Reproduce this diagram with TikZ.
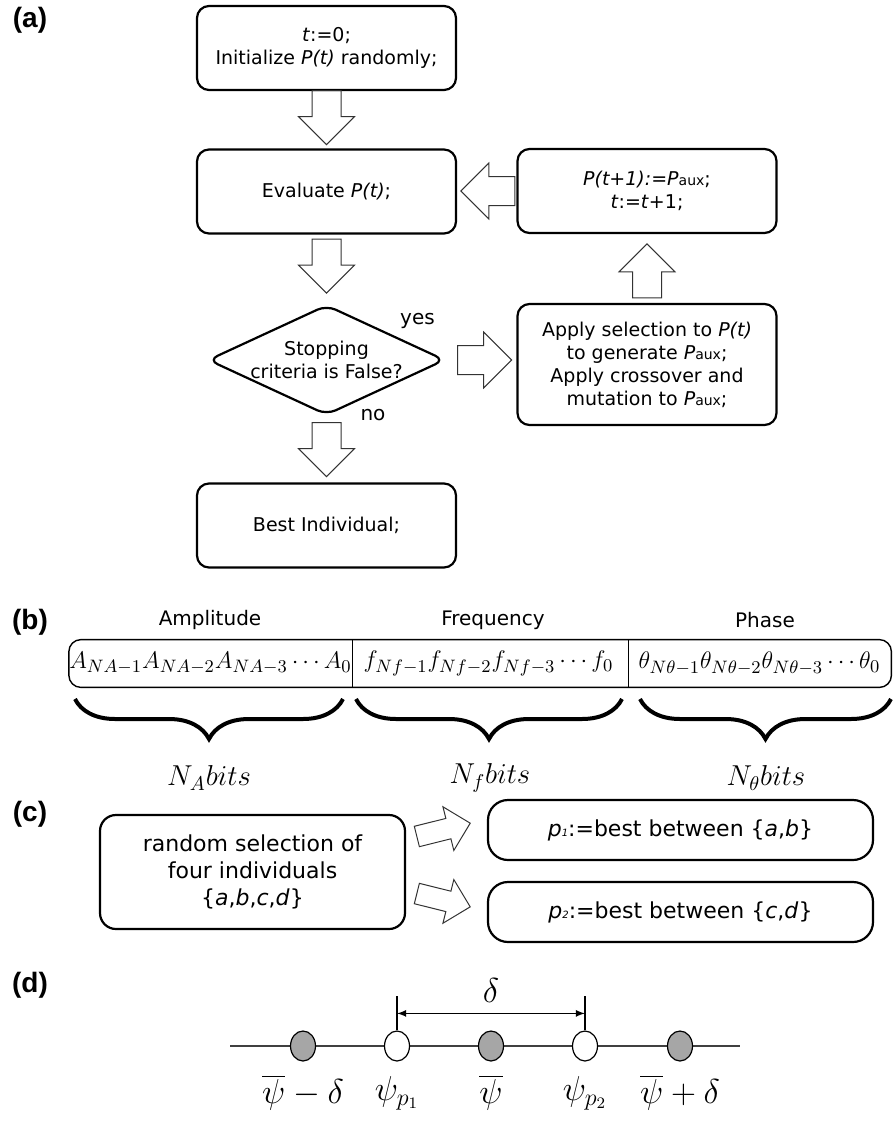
\documentclass[tikz,border=0pt]{standalone}
\usepackage[no-math]{fontspec}
\setmainfont{DejaVu Sans}
\newfontfamily\panelfont{Liberation Sans}
\usetikzlibrary{shapes.geometric,shapes.arrows,decorations.pathreplacing,calc}
\begin{document}
\begin{tikzpicture}[x=0.5pt,y=-0.5pt]
	\tikzstyle{stepbox}=[draw,line width=1.1pt,rounded corners=6pt,minimum width=129.5pt,minimum height=42pt,align=center,font=\fontsize{9.5}{11.5}\selectfont]
	\tikzstyle{decision}=[draw,diamond,aspect=2.15,line width=1.1pt,rounded corners=5pt,minimum width=118.5pt,minimum height=55pt,inner sep=-6pt,align=center,font=\fontsize{9.5}{11.5}\selectfont]
	\tikzstyle{bigarrow}=[draw=black!80,line width=0.5pt,single arrow,single arrow head extend=6.75pt,inner xsep=0pt,inner ysep=7pt,minimum height=27pt,anchor=tip]
	\tikzstyle{smallarrow}=[draw=black!80,line width=0.5pt,single arrow,single arrow head extend=6pt,inner xsep=0pt,inner ysep=5pt,minimum height=27.5pt,anchor=tip]
	\tikzstyle{panel}=[font=\fontsize{14}{16}\panelfont\bfseries]
	\tikzstyle{cell}=[inner sep=0pt,minimum height=23.5pt,font=\fontsize{12.3}{14}\selectfont]
	\tikzstyle{pickbox}=[draw,line width=1.1pt,rounded corners=8pt,align=center,font=\fontsize{11}{13.5}\selectfont]
	\tikzstyle{bead}=[draw,ellipse,line width=0.6pt,minimum width=12.5pt,minimum height=15pt,inner sep=0pt]

	\useasboundingbox (0,0) rectangle (893,1130);

	\node[panel] (la) at (30,20) {(a)};
	\node[panel] (lb) at (30,622) {(b)};
	\node[panel] (lc) at (30,814) {(c)};
	\node[panel] (ld) at (30,985) {(d)};

	\node[stepbox] (init) at (326.5,48) {\textit{t}:=0;\\Initialize \textit{P(t)} randomly;};
	\node[stepbox] (eval) at (326.5,191.5) {Evaluate \textit{P(t)};};
	\node[decision] (stop) at (326.5,360) {Stopping\\criteria is False?};
	\node[stepbox] (best) at (326.5,525.5) {Best Individual;};
	\node[stepbox] (upd) at (647,191) {\textit{P(t+1):=P}{\scriptsize aux};\\\textit{t}:=\textit{t}+1;};
	\node[stepbox,minimum height=60.5pt] (apply) at (647,364.5) {Apply selection to \textit{P(t)}\\to generate \textit{P}{\scriptsize aux};\\Apply crossover and\\mutation to \textit{P}{\scriptsize aux};};

	\node[bigarrow,rotate=-90] (a1) at ($(eval.north)+(0,-3)$) {};
	\node[bigarrow,rotate=-90] (a2) at ($(stop.north)+(0,-10)$) {};
	\node[bigarrow,rotate=-90] (a3) at ($(best.north)+(0,-5)$) {};
	\node[bigarrow] (a4) at ($(apply.west |- stop.east)+(-4,0)$) {};
	\node[bigarrow,rotate=90] (a5) at ($(upd.south)+(0,9)$) {};
	\node[bigarrow,rotate=180] (a6) at ($(eval.east |- upd.west)+(3,0)$) {};

	\node[font=\fontsize{10}{12}\selectfont] (yes) at (417.5,320.5) {yes};
	\node[font=\fontsize{10}{12}\selectfont] (no) at (373,415) {no};

	\node[cell,minimum width=138.5pt] (amp) at (210.5,663.5) {$A_{NA-1}A_{NA-2}A_{NA-3}\cdots A_0$};
	\node[cell,minimum width=139.5pt] (frq) at (488.5,663.5) {$f_{Nf-1}f_{Nf-2}f_{Nf-3}\cdots f_0$};
	\node[cell,minimum width=131.5pt] (pha) at (759.5,663.5) {$\theta_{N\theta-1}\theta_{N\theta-2}\theta_{N\theta-3}\cdots\theta_0$};
	\draw[line width=0.7pt,rounded corners=6pt] (amp.north west) rectangle (pha.south east);
	\draw[line width=0.5pt] (amp.north east) -- (amp.south east);
	\draw[line width=0.5pt] (frq.north east) -- (frq.south east);

	\node[font=\fontsize{10}{12}\selectfont] (tamp) at (210,620) {Amplitude};
	\node[font=\fontsize{10}{12}\selectfont] (tfrq) at (493,620) {Frequency};
	\node[font=\fontsize{10}{12}\selectfont] (tpha) at (765,620) {Phase};

	\draw[line width=2pt,decorate,decoration={brace,mirror,amplitude=20pt}] (75,699) -- (343,699);
	\draw[line width=2pt,decorate,decoration={brace,mirror,amplitude=20pt}] (356,699) -- (622,699);
	\draw[line width=2pt,decorate,decoration={brace,mirror,amplitude=20pt}] (640,699) -- (891,699);

	\node[font=\fontsize{14}{16}\selectfont] (na) at (209,778) {$N_Abits$};
	\node[font=\fontsize{14}{16}\selectfont] (nf) at (490,778) {$N_fbits$};
	\node[font=\fontsize{14}{16}\selectfont] (nt) at (766,778) {$N_\theta bits$};

	\node[pickbox,minimum width=152.5pt,minimum height=57pt] (rnd) at (252.5,872) {random selection of\\four individuals\\\{\textit{a},\textit{b},\textit{c},\textit{d}\}};
	\node[pickbox,rounded corners=10pt,minimum width=192.5pt,minimum height=30pt] (p1) at (680.5,830) {\textit{p}{\tiny\textit{1}}:=best between \{\textit{a},\textit{b}\}};
	\node[pickbox,rounded corners=10pt,minimum width=192.5pt,minimum height=30pt] (p2) at (680.5,912) {\textit{p}{\tiny\textit{2}}:=best between \{\textit{c},\textit{d}\}};
	\node[smallarrow,rotate=14] (s1) at ($(p1.west)+(-16,-7)$) {};
	\node[smallarrow,rotate=-14] (s2) at ($(p2.west)+(-16,-5)$) {};

	\coordinate (l0) at (230,1046);
	\coordinate (l1) at (740,1046);
	\draw[line width=0.8pt,black!75] (l0) -- (l1);
	\node[bead,fill=black!35] (g1) at (303,1046) {};
	\node[bead,fill=white] (w1) at (397,1046) {};
	\node[bead,fill=black!35] (g2) at (491,1046) {};
	\node[bead,fill=white] (w2) at (585,1046) {};
	\node[bead,fill=black!35] (g3) at (680,1046) {};
	\draw[line width=0.6pt] (w1.north) -- ++(0,-34) coordinate (t1);
	\draw[line width=0.6pt] (w2.north) -- ++(0,-34) coordinate (t2);
	\draw[<->,>=latex,line width=0.6pt] ($(t1)!0.5!(w1.north)$) -- ($(t2)!0.5!(w2.north)$);
	\node[font=\fontsize{17}{19}\selectfont] (dl) at (491,990) {$\delta$};

	\node[font=\fontsize{17}{19}\selectfont] (v1) at (303,1093) {$\overline{\psi}-\delta$};
	\node[font=\fontsize{17}{19}\selectfont] (v2) at (397,1093) {$\psi_{p_1}$};
	\node[font=\fontsize{17}{19}\selectfont] (v3) at (491,1093) {$\overline{\psi}$};
	\node[font=\fontsize{17}{19}\selectfont] (v4) at (585,1093) {$\psi_{p_2}$};
	\node[font=\fontsize{17}{19}\selectfont] (v5) at (680,1093) {$\overline{\psi}+\delta$};
\end{tikzpicture}
\end{document}
